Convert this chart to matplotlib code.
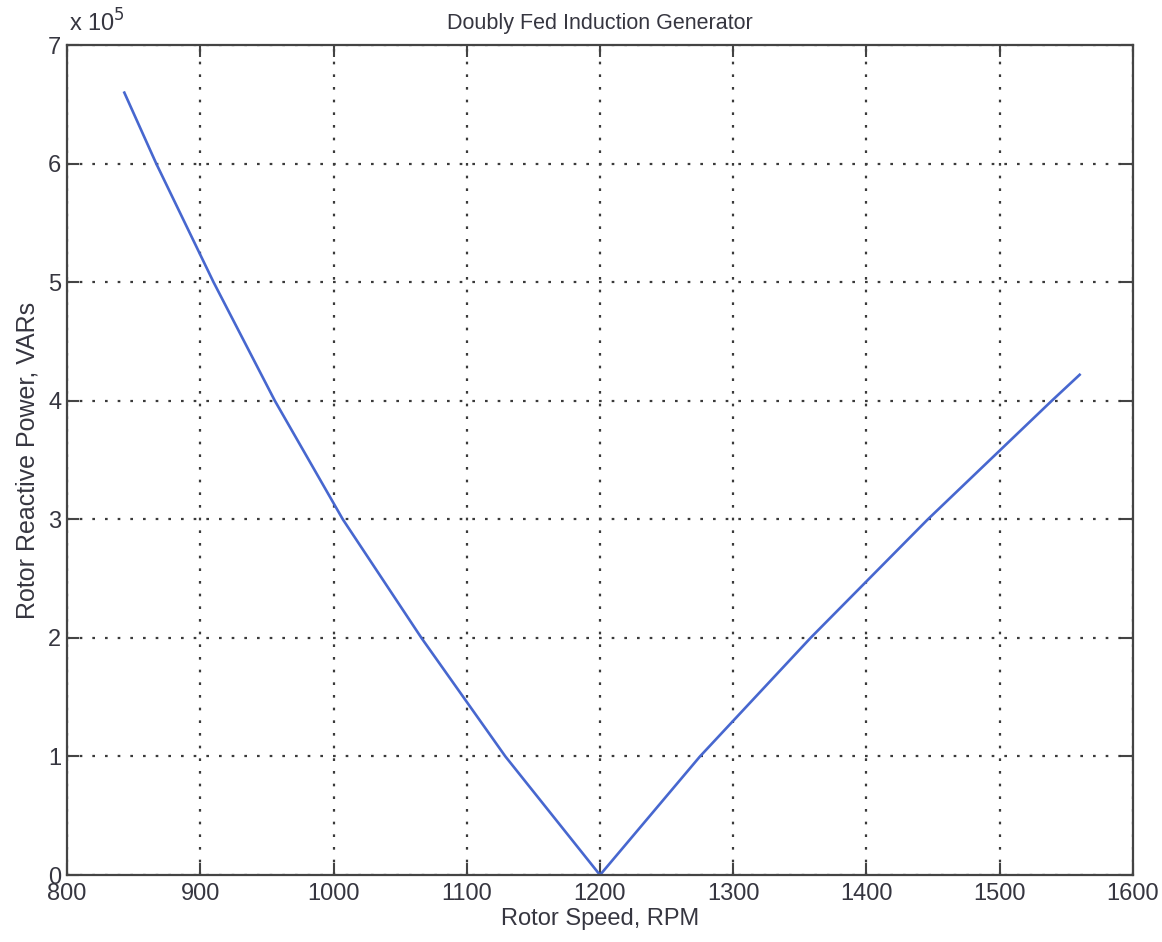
import numpy as np
import matplotlib
matplotlib.use('Agg')
import matplotlib.pyplot as plt
import matplotlib.transforms as mtransforms
from matplotlib.ticker import FuncFormatter, MultipleLocator

# Values (rotor speed in RPM, reactive power in VARs)
rpm = [843, 867, 910, 956, 1007, 1066, 1129, 1200,
       1275, 1358, 1446, 1539, 1560]
q_rotor_e5 = [6.60, 6.00, 5.00, 4.00, 3.00, 2.00, 1.00, 0.00,
              1.00, 2.00, 3.00, 4.00, 4.22]
q_rotor = [v * 1e5 for v in q_rotor_e5]

x_ticks = [800, 900, 1000, 1100, 1200, 1300, 1400, 1500, 1600]

txt = '#363640'
plt.rcParams['font.family'] = ['Liberation Sans', 'DejaVu Sans']

fig = plt.figure(figsize=(11.62, 9.42), dpi=100)
ax = fig.add_axes([0.0577, 0.0711, 0.9173, 0.8809])

ax.plot(rpm, q_rotor, color='#4767cf', linewidth=1.9)

ax.set_xlim(800, 1600)
ax.set_ylim(0, 7e5)
ax.set_xticks(x_ticks)
ax.yaxis.set_major_locator(MultipleLocator(1e5))
ax.yaxis.set_major_formatter(FuncFormatter(lambda v, p: f'{v / 1e5:.0f}'))

ax.grid(True, color='#3a3a3a', linestyle=(0, (1.2, 4.5)), linewidth=1.6)
ax.tick_params(direction='in', length=8.5, width=1.5, top=True, right=True,
               labelsize=17, colors='#444', labelcolor=txt, pad=6)
ax.tick_params(axis='y', pad=4)
for s in ax.spines.values():
    s.set_linewidth(1.6)
    s.set_color('#444')

ax.set_title('Doubly Fed Induction Generator', fontsize=15.5, color=txt, pad=12)
ax.set_xlabel('Rotor Speed, RPM', fontsize=17, color=txt, labelpad=2)
ax.set_ylabel('Rotor Reactive Power, VARs', fontsize=18, color=txt, labelpad=6)

# MATLAB-style exponent label above the y axis
ax.text(0.002, 1.01, r'x 10$^{5}$', transform=ax.transAxes, fontsize=17,
        color=txt, ha='left', va='bottom')

# lift the "0" y label a touch so it sits just above "800"
fig.canvas.draw()
lbl0 = ax.get_yticklabels()[0]
lbl0.set_transform(lbl0.get_transform() +
                   mtransforms.ScaledTranslation(0, 4 / 72, fig.dpi_scale_trans))

fig.savefig('out.png', dpi=100)
